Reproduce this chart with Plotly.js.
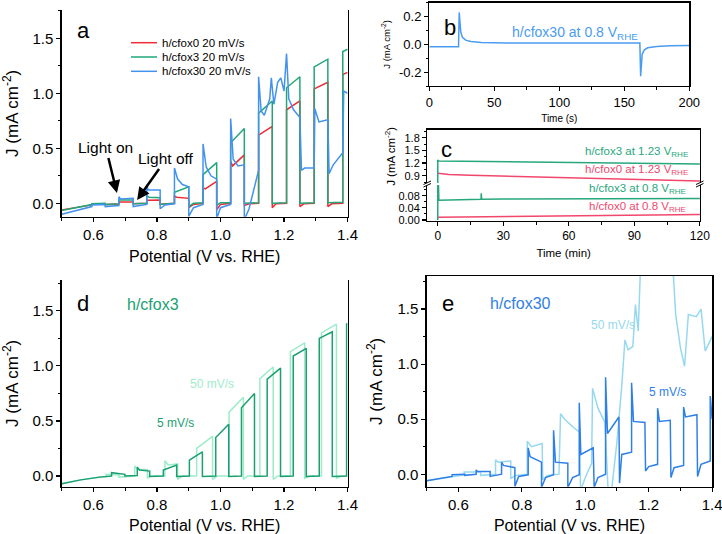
<!DOCTYPE html>
<html><head><meta charset="utf-8">
<script src="https://cdn.plot.ly/plotly-3.0.1.min.js"></script>
<style>html,body{margin:0;padding:0;background:#fff}</style>
</head><body><div id="chart" style="width:722px;height:534px"></div>
<script>
// ---------- DATA ----------
// Panel a: chopped LSV, 20 mV/s
const aV_h0  = [0.50,0.55,0.595,0.595,0.637,0.637,0.68,0.68,0.725,0.725,0.768,0.768,0.81,0.81,0.855,0.855,0.862,0.90,0.90,0.915,0.945,0.945,0.952,0.988,0.988,1.00,1.032,1.032,1.038,1.075,1.075,1.09,1.12,1.12,1.163,1.163,1.175,1.208,1.208,1.25,1.25,1.262,1.295,1.295,1.338,1.338,1.35,1.385,1.385,1.40];
const aJ_h0  = [-0.060,-0.035,-0.015,-0.008,-0.004,-0.012,-0.006,0.012,0.012,-0.004,0.000,0.028,0.030,-0.008,0.000,0.065,0.055,0.045,-0.04,-0.01,0.000,0.14,0.13,0.20,-0.06,-0.01,0.000,0.38,0.34,0.44,-0.02,-0.005,0.000,0.62,0.70,-0.04,-0.005,0.000,0.85,0.93,-0.03,-0.005,0.000,1.04,1.10,-0.03,-0.005,0.000,1.17,1.19];
const aV_h3  = [0.50,0.55,0.595,0.595,0.637,0.637,0.68,0.68,0.725,0.725,0.768,0.768,0.775,0.81,0.81,0.855,0.855,0.90,0.90,0.915,0.945,0.945,0.988,0.988,1.00,1.032,1.032,1.075,1.075,1.12,1.12,1.163,1.163,1.208,1.208,1.25,1.25,1.295,1.295,1.338,1.338,1.385,1.385,1.40];
const aJ_h3  = [-0.065,-0.035,-0.012,-0.005,0.000,-0.010,-0.004,0.030,0.030,-0.005,0.000,0.070,0.055,0.050,-0.010,0.000,0.100,0.150,-0.030,0.000,0.005,0.260,0.370,-0.020,0.005,0.005,0.550,0.680,0.000,0.005,0.820,0.930,0.000,0.005,1.050,1.150,0.000,0.005,1.240,1.310,0.005,0.010,1.380,1.400];
const aV_h30 = [0.50,0.55,0.595,0.595,0.637,0.637,0.68,0.68,0.685,0.725,0.725,0.768,0.768,0.772,0.81,0.81,0.825,0.855,0.855,0.865,0.88,0.90,0.90,0.915,0.945,0.945,0.955,0.97,0.988,0.988,1.00,1.032,1.032,1.04,1.055,1.075,1.075,1.09,1.11,1.12,1.12,1.128,1.138,1.155,1.16,1.168,1.18,1.19,1.20,1.208,1.215,1.23,1.25,1.255,1.265,1.295,1.297,1.31,1.338,1.342,1.355,1.385,1.388,1.40];
const aJ_h30 = [-0.10,-0.06,-0.03,-0.015,-0.01,-0.03,-0.02,0.06,0.04,0.045,-0.03,-0.01,0.17,0.12,0.12,-0.05,-0.015,-0.005,0.32,0.22,0.17,0.15,-0.12,-0.04,-0.01,0.54,0.33,0.25,0.22,-0.14,-0.04,-0.01,0.77,0.40,0.34,0.35,-0.15,-0.05,0.18,0.30,1.15,0.84,0.80,0.95,1.14,0.90,1.10,1.14,1.02,1.36,0.95,0.85,0.78,0.30,0.32,0.32,0.86,0.74,0.76,0.27,0.35,0.46,1.02,1.00];
const aNames = ['h/cfox0 20 mV/s','h/cfox3 20 mV/s','h/cfox30 20 mV/s'];

// Panel b: transient at 0.8 V
const bT = [0,10,22.5,23,23.5,24.2,25.5,28,32,40,60,100,140,162,162.6,163.1,163.8,165.5,168,175,185,200];
const bJ = [-0.018,-0.018,-0.018,0.23,0.14,0.09,0.05,0.03,0.02,0.013,0.01,0.01,0.01,0.01,-0.23,-0.11,-0.07,-0.04,-0.025,-0.015,-0.01,-0.008];

// Panel c: stability (min)
const cT_h3_123 = [0,0,0.5,15,30,60,90,120];
const cJ_h3_123 = [0.70,1.27,1.25,1.24,1.23,1.21,1.20,1.18];
const cT_h0_123 = [0,5,15,30,45,60,75,90,105,120];
const cJ_h0_123 = [0.957,0.93,0.91,0.893,0.875,0.86,0.84,0.815,0.795,0.775];
const cT_h3_08  = [0,0,0.5,10,19.8,19.9,20.1,30,60,90,120];
const cJ_h3_08  = [0.0,0.2,0.065,0.067,0.068,0.088,0.068,0.069,0.070,0.071,0.071];
const cT_h0_08  = [0,15,30,60,90,120];
const cJ_h0_08  = [0.009,0.010,0.012,0.014,0.016,0.018];

// Panel d: h/cfox3, 5 and 50 mV/s
const dV_5  = [0.50,0.56,0.62,0.657,0.657,0.699,0.699,0.738,0.738,0.745,0.777,0.777,0.82,0.82,0.862,0.862,0.902,0.902,0.943,0.943,0.985,0.985,1.026,1.026,1.066,1.066,1.107,1.107,1.147,1.147,1.189,1.189,1.229,1.229,1.27,1.27,1.311,1.311,1.352,1.352,1.397,1.397,1.40];
const dJ_5  = [-0.070,-0.035,-0.010,0.000,0.030,0.015,0.000,0.005,0.080,0.055,0.045,-0.005,0.000,0.055,0.100,-0.005,0.000,0.145,0.220,-0.005,0.000,0.350,0.470,-0.005,0.000,0.620,0.750,-0.005,0.000,0.880,0.980,-0.005,0.000,1.090,1.160,-0.005,0.000,1.250,1.310,-0.005,0.000,1.380,1.380];
const dV_50 = [0.50,0.56,0.62,0.64,0.64,0.68,0.68,0.73,0.73,0.74,0.77,0.77,0.78,0.825,0.825,0.835,0.865,0.865,0.88,0.925,0.925,0.975,0.975,0.99,1.027,1.027,1.072,1.072,1.085,1.124,1.124,1.166,1.166,1.18,1.22,1.22,1.265,1.265,1.28,1.318,1.318,1.365,1.365,1.38,1.40];
const dJ_50 = [-0.070,-0.035,-0.010,-0.005,0.015,0.010,-0.010,0.000,0.090,0.060,0.060,-0.020,0.000,0.000,0.140,0.100,0.110,-0.030,0.000,0.000,0.250,0.360,-0.030,0.000,0.000,0.580,0.715,-0.030,0.000,0.000,0.885,0.990,-0.030,0.000,0.000,1.130,1.210,-0.020,0.000,0.000,1.300,1.380,-0.020,0.000,0.000];

// Panel e: h/cfox30, 5 and 50 mV/s
const eV_5  = [0.50,0.56,0.58,0.58,0.62,0.62,0.656,0.656,0.66,0.70,0.70,0.736,0.736,0.742,0.778,0.778,0.79,0.82,0.82,0.826,0.862,0.862,0.875,0.900,0.900,0.906,0.945,0.945,0.96,0.981,0.981,0.986,1.025,1.028,1.04,1.064,1.064,1.07,1.106,1.108,1.115,1.146,1.146,1.152,1.188,1.19,1.20,1.228,1.228,1.234,1.268,1.27,1.28,1.31,1.31,1.316,1.352,1.354,1.365,1.394,1.394,1.40];
const eJ_5  = [-0.060,-0.030,-0.020,-0.005,0.000,-0.010,0.000,0.040,0.025,0.025,-0.020,0.000,0.110,0.080,0.060,-0.110,-0.020,-0.005,0.240,0.160,0.110,-0.120,-0.030,-0.005,0.400,0.110,0.100,-0.120,-0.030,-0.005,0.650,0.180,0.240,-0.120,-0.030,0.000,0.880,0.370,0.520,-0.080,0.180,0.200,0.830,0.480,0.470,0.030,0.070,0.090,0.600,0.480,0.490,-0.030,0.060,0.080,0.610,0.520,0.540,-0.020,0.090,0.120,0.710,0.500];
const eV_50 = [0.50,0.56,0.618,0.618,0.67,0.67,0.717,0.717,0.725,0.765,0.765,0.78,0.817,0.817,0.83,0.864,0.866,0.88,0.917,0.922,0.935,0.965,0.983,0.985,1.00,1.02,1.023,1.04,1.062,1.072,1.083,1.10,1.115,1.125,1.135,1.15,1.158,1.167,1.178,1.27,1.285,1.30,1.313,1.325,1.35,1.365,1.378,1.40];
const eJ_50 = [-0.060,-0.030,-0.005,0.020,0.020,-0.010,0.000,0.130,0.110,0.120,-0.040,-0.010,0.000,0.300,0.250,0.280,-0.050,-0.010,0.000,0.550,0.500,0.420,0.380,-0.150,-0.030,0.100,0.780,0.600,0.470,-0.150,-0.150,0.300,0.800,1.220,1.130,1.160,1.540,1.300,2.200,2.200,1.450,1.150,0.980,1.450,1.430,1.500,1.120,1.250];

const bTickVals = [-0.2, 0, 0.2];
const bTickText = ['-0.2', '0.0', '0.2'];

// ---------- STYLE ----------
const FONT = 'Liberation Sans, Arial, Helvetica, sans-serif';
const C_RED = '#ee2b36', C_GREEN = '#21a777', C_BLUE = '#4393ee';
const C_D5 = '#1a9f70', C_D50 = '#9decc9';
const C_E5 = '#2f80e6', C_E50 = '#96d8f0';
const C_B = '#4a9cf0', C_CG = '#27a87c', C_CR = '#f2476c';
const W = 722, H = 534;
const fx = px => px / W, fy = py => 1 - py / H;

function ax(o) {
  return Object.assign({
    showline: true, linecolor: '#000', linewidth: 1.3,
    ticks: 'outside', ticklen: 4, tickwidth: 1.2, tickcolor: '#000',
    showgrid: false, zeroline: false, ticklabeloverflow: 'allow',
    tickfont: {family: FONT, size: 15, color: '#000'}
  }, o);
}
function ttl(text, size, standoff) {
  return {text: text, font: {family: FONT, size: size, color: '#000'}, standoff: standoff};
}
const minor = (d, t0) => ({ticks: 'outside', ticklen: 2.5, tickwidth: 1, tickcolor: '#000', dtick: d, tick0: t0});

function line(x, y, xa, ya, color, w) {
  return {x: x, y: y, xaxis: xa, yaxis: ya, mode: 'lines', line: {color: color, width: w || 1.5}, hoverinfo: 'skip'};
}

const traces = [
  line(aV_h0, aJ_h0, 'x', 'y', C_RED),
  line(aV_h3, aJ_h3, 'x', 'y', C_GREEN),
  line(aV_h30, aJ_h30, 'x', 'y', C_BLUE),
  line(bT, bJ, 'x2', 'y2', C_B, 1.5),
  line(cT_h0_08, cJ_h0_08, 'x3', 'y3', C_CR, 1.5),
  line(cT_h3_08, cJ_h3_08, 'x3', 'y3', C_CG, 1.5),
  line(cT_h0_123, cJ_h0_123, 'x4', 'y4', C_CR, 1.5),
  line(cT_h3_123, cJ_h3_123, 'x4', 'y4', C_CG, 1.5),
  line(dV_50, dJ_50, 'x5', 'y5', C_D50),
  line(dV_5, dJ_5, 'x5', 'y5', C_D5),
  line(eV_50, eJ_50, 'x6', 'y6', C_E50),
  line(eV_5, eJ_5, 'x6', 'y6', C_E5)
];

const potTitle = 'Potential (V vs. RHE)';
const jTitle = 'J (mA cm<sup>-2</sup>)';
const vRange = [0.5, 1.4005];

const layout = {
  width: W, height: H, margin: {l: 0, r: 0, t: 0, b: 0},
  paper_bgcolor: '#fff', plot_bgcolor: 'rgba(0,0,0,0)', showlegend: false,
  font: {family: FONT, color: '#000'},
  // a
  xaxis: ax({domain: [fx(61.7), fx(347.7)], range: vRange, anchor: 'y', dtick: 0.2, tick0: 0.6, tickformat: '.1f', minor: minor(0.1, 0.5), title: ttl(potTitle, 16, 8)}),
  yaxis: ax({domain: [fy(216.7), fy(10)], range: [-0.122, 1.757], anchor: 'x', dtick: 0.5, tick0: 0, tickformat: '.1f', minor: minor(0.25, 0), mirror: true, title: ttl(jTitle, 17, 10)}),
  // b
  xaxis2: ax({domain: [fx(429.3), fx(689.3)], range: [0, 200.05], anchor: 'y2', dtick: 50, minor: minor(25, 0), mirror: true, tickfont: {family: FONT, size: 13, color: '#000'}, title: ttl('Time (s)', 10, 6)}),
  yaxis2: ax({domain: [fy(86), fy(2.7)], range: [-0.3, 0.3], anchor: 'x2', tickvals: bTickVals, ticktext: bTickText, minor: minor(0.1, 0), mirror: true, tickfont: {family: FONT, size: 13, color: '#000'}, title: ttl(jTitle, 9.5, 6)}),
  // c lower
  xaxis3: ax({domain: [fx(427.3), fx(700)], range: [-4.8, 120.05], anchor: 'y3', dtick: 30, minor: minor(15, 0), tickfont: {family: FONT, size: 12, color: '#000'}, title: ttl('Time (min)', 11.5, 6)}),
  yaxis3: ax({domain: [fy(220.7), fy(185)], range: [-0.0023, 0.115], anchor: 'x3', dtick: 0.04, tick0: 0, tickformat: '.2f', minor: minor(0.02, 0), mirror: true, tickfont: {family: FONT, size: 11, color: '#000'}}),
  // c upper
  xaxis4: ax({domain: [fx(427.3), fx(700)], range: [-4.8, 120.05], anchor: 'y4', side: 'top', ticks: '', showticklabels: false, matches: 'x3'}),
  yaxis4: ax({domain: [fy(183), fy(129.7)], range: [0.727, 1.99], anchor: 'x4', dtick: 0.3, tick0: 0.9, tickformat: '.1f', minor: minor(0.15, 0.9), mirror: true, tickfont: {family: FONT, size: 11, color: '#000'}, title: ttl(jTitle, 11.5, 6)}),
  // d
  xaxis5: ax({domain: [fx(61.7), fx(347.7)], range: vRange, anchor: 'y5', dtick: 0.2, tick0: 0.6, tickformat: '.1f', minor: minor(0.1, 0.5), title: ttl(potTitle, 16, 8)}),
  yaxis5: ax({domain: [fy(486.7), fy(280)], range: [-0.097, 1.78], anchor: 'x5', dtick: 0.5, tick0: 0, tickformat: '.1f', minor: minor(0.25, 0), mirror: true, title: ttl(jTitle, 17, 10)}),
  // e
  xaxis6: ax({domain: [fx(426.7), fx(712.3)], range: vRange, anchor: 'y6', dtick: 0.2, tick0: 0.6, tickformat: '.1f', minor: minor(0.1, 0.5), mirror: true, title: ttl(potTitle, 16, 8)}),
  yaxis6: ax({domain: [fy(486.7), fy(276)], range: [-0.113, 1.80], anchor: 'x6', dtick: 0.5, tick0: 0, tickformat: '.1f', minor: minor(0.25, 0), mirror: true, title: ttl(jTitle, 17, 10)})
};

function txt(text, px, py, size, color, xanchor) {
  return {text: text, xref: 'paper', yref: 'paper', x: fx(px), y: fy(py), xanchor: xanchor || 'left', yanchor: 'middle',
          showarrow: false, font: {family: FONT, size: size, color: color || '#000'}};
}

const annotations = [
  txt('a', 83, 30, 22, '#000', 'center'),
  txt('b', 450, 27, 22, '#000', 'center'),
  txt('c', 446, 149, 22, '#000', 'center'),
  txt('d', 83, 303, 22, '#000', 'center'),
  txt('e', 448, 303, 22, '#000', 'center'),
  // legend (panel a)
  txt(aNames[0], 160, 42.7, 11.5),
  txt(aNames[1], 160, 57, 11.5),
  txt(aNames[2], 160, 71.3, 11.5),
  // b label
  txt('h/cfox30 at 0.8 V<sub>RHE</sub>', 510, 33, 14, C_B),
  // c labels
  txt('h/cfox3 at 1.23 V<sub>RHE</sub>', 583, 152, 11.5, C_CG),
  txt('h/cfox0 at 1.23 V<sub>RHE</sub>', 583, 170, 11.5, C_CR),
  txt('h/cfox3 at 0.8 V<sub>RHE</sub>', 586.5, 189, 11.5, C_CG),
  txt('h/cfox0 at 0.8 V<sub>RHE</sub>', 586.5, 207, 11.5, C_CR),
  // d labels
  txt('h/cfox3', 125, 304, 16, C_D5),
  txt('50 mV/s', 188, 384, 12, C_D50),
  txt('5 mV/s', 155, 423, 12, C_D5),
  // e labels
  txt('h/cfox30', 488, 303, 16, C_E5),
  txt('50 mV/s', 589, 325, 12, C_E50),
  txt('5 mV/s', 647, 392, 12, C_E5),
  // Light on / off arrows
  {text: 'Light on', xref: 'x', yref: 'y', x: 0.674, y: 0.094, ax: -11, ay: -45, showarrow: true,
   arrowhead: 2, arrowsize: 1, arrowwidth: 2.5, arrowcolor: '#000', font: {family: FONT, size: 15.5, color: '#000'}},
  {text: 'Light off', xref: 'x', yref: 'y', x: 0.7375, y: 0.03, ax: 29, ay: -41, showarrow: true,
   arrowhead: 2, arrowsize: 1, arrowwidth: 2.5, arrowcolor: '#000', font: {family: FONT, size: 15.5, color: '#000'}}
];
layout.annotations = annotations;

function seg(x0, y0, x1, y1, color, w) {
  return {type: 'line', xref: 'paper', yref: 'paper', x0: fx(x0), y0: fy(y0), x1: fx(x1), y1: fy(y1), line: {color: color, width: w}};
}
layout.shapes = [
  seg(131, 42.7, 157, 42.7, C_RED, 1.5),
  seg(131, 57, 157, 57, C_GREEN, 1.5),
  seg(131, 71.3, 157, 71.3, C_BLUE, 1.5),
  // axis break marks in panel c
  seg(423.5, 184.5, 431, 181, '#000', 1),
  seg(423.5, 187, 431, 183.5, '#000', 1),
  seg(696, 184.5, 703.5, 181, '#000', 1),
  seg(696, 187, 703.5, 183.5, '#000', 1)
];

Plotly.newPlot('chart', traces, layout, {staticPlot: true, displayModeBar: false});
</script></body></html>
